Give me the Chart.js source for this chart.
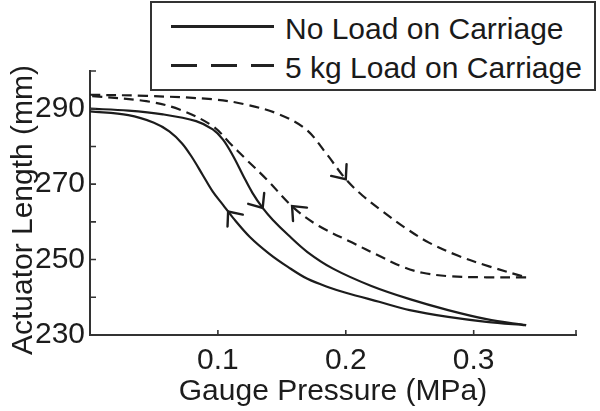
<!DOCTYPE html>
<html>
<head>
<meta charset="utf-8">
<script src="https://cdn.jsdelivr.net/npm/chart.js@4.4.1/dist/chart.umd.min.js"></script>
<style>
  html, body { margin: 0; padding: 0; background: #fff; }
  #wrap { position: relative; width: 600px; height: 411px; font-family: "Liberation Sans", Arial, sans-serif; color: #1a1a1a; }
  #legend { position: absolute; left: 150px; top: 1px; width: 446px; height: 90px; border: 2px solid #333; box-sizing: border-box; background: #fff; }
  .sample { position: absolute; left: 171px; width: 103px; height: 3px; }
  .solid { background: #222; }
  .dashed { background: repeating-linear-gradient(to right, #222 0 26px, transparent 26px 40px); }
  .label { position: absolute; left: 285px; font-size: 30px; line-height: 30px; white-space: nowrap; }
</style>
</head>
<body>
<div id="wrap">
  <canvas id="chart" width="600" height="411"></canvas>
  <div id="legend"></div>
</div>
<script>
// x = gauge pressure (MPa), y = actuator length (mm)
// each branch is listed in the order it is travelled
const seriesNames = ["No Load on Carriage", "5 kg Load on Carriage"];

const noLoadUpX = [0, 0.03, 0.057, 0.083, 0.096, 0.104, 0.112, 0.12, 0.127, 0.135, 0.143, 0.155, 0.17, 0.19, 0.22, 0.25, 0.28, 0.31, 0.341];
const noLoadUpY = [290, 289.5, 288.5, 286.7, 284.5, 281.8, 277.4, 272.1, 267.7, 263.7, 260.5, 256.5, 252, 247.6, 243, 239.5, 236.6, 234.2, 232.6];

const noLoadDownX = [0.341, 0.31, 0.28, 0.25, 0.226, 0.2, 0.187, 0.17, 0.155, 0.14, 0.125, 0.112, 0.104, 0.096, 0.088, 0.08, 0.072, 0.062, 0.05, 0.03, 0];
const noLoadDownY = [232.6, 233.5, 234.8, 236.6, 238.8, 241.2, 242.6, 244.9, 248, 251.6, 256, 261, 264.5, 268, 272.5, 277, 280.8, 284, 286.3, 288.3, 289.3];

const loadUpX = [0, 0.044, 0.096, 0.122, 0.148, 0.169, 0.185, 0.2, 0.213, 0.228, 0.247, 0.265, 0.288, 0.312, 0.341];
const loadUpY = [293.7, 293.4, 292.5, 291.1, 288.5, 284.5, 278, 271.3, 267, 263, 258.3, 254.5, 251, 248.2, 245.3];

const loadDownX = [0.341, 0.31, 0.28, 0.26, 0.245, 0.226, 0.205, 0.179, 0.16, 0.138, 0.122, 0.109, 0.096, 0.07, 0.044, 0];
const loadDownY = [245.3, 245.3, 245.6, 246.5, 248, 251, 254.5, 258.9, 263.5, 271.3, 276.6, 281, 285.4, 289.8, 292, 293.4];

// direction arrows: which dataset, and at which pressure
const arrowSeries = [0, 1, 2, 3];
const arrowAtX = [0.135, 0.108, 0.2, 0.158];

const xTickLabels = [0.1, 0.2, 0.3];
const yTickLabels = [230, 250, 270, 290];
const yTitle = "Actuator Length (mm)";

const ink = "#1c1c1c";
const font = "'Liberation Sans', Arial, sans-serif";

function toPoints(xs, ys) {
  return xs.map((x, i) => ({ x: x, y: ys[i] }));
}

function branch(xs, ys, dashed) {
  return {
    data: toPoints(xs, ys),
    borderColor: ink,
    borderWidth: 2.2,
    borderDash: dashed ? [10, 6] : [],
    pointRadius: 0,
    tension: 0.35,
    fill: false,
  };
}

// arrowheads drawn on top of the curves
const arrowPlugin = {
  id: "arrows",
  afterDatasetsDraw(chart) {
    const ctx = chart.ctx;
    const sx = chart.scales.x, sy = chart.scales.y;
    ctx.save();
    ctx.strokeStyle = ink;
    ctx.lineWidth = 2.4;
    ctx.setLineDash([]);
    ctx.lineCap = "round";
    arrowSeries.forEach((di, k) => {
      const pts = chart.data.datasets[di].data;
      const ax = arrowAtX[k];
      for (let i = 0; i < pts.length - 1; i++) {
        const a = pts[i], b = pts[i + 1];
        if ((a.x - ax) * (b.x - ax) > 0 || a.x === b.x) continue;
        const t = (ax - a.x) / (b.x - a.x);
        const px = sx.getPixelForValue(ax);
        const py = sy.getPixelForValue(a.y + t * (b.y - a.y));
        const ang = Math.atan2(sy.getPixelForValue(b.y) - sy.getPixelForValue(a.y),
                               sx.getPixelForValue(b.x) - sx.getPixelForValue(a.x));
        const len = 15, spread = 0.7;
        ctx.beginPath();
        ctx.moveTo(px - len * Math.cos(ang - spread), py - len * Math.sin(ang - spread));
        ctx.lineTo(px, py);
        ctx.lineTo(px - len * Math.cos(ang + spread), py - len * Math.sin(ang + spread));
        ctx.stroke();
        break;
      }
    });
    ctx.restore();
  }
};

// tick marks pointing into the plot, plus the y title (longer than the axis)
const inwardTicks = {
  id: "inwardTicks",
  afterDraw(chart) {
    const { ctx, chartArea, scales } = chart;
    ctx.save();
    ctx.strokeStyle = "#333";
    ctx.lineWidth = 1.6;
    ctx.beginPath();
    scales.x.ticks.forEach(t => {
      const p = scales.x.getPixelForValue(t.value);
      ctx.moveTo(p, chartArea.bottom);
      ctx.lineTo(p, chartArea.bottom - 5);
    });
    scales.y.ticks.forEach(t => {
      const p = scales.y.getPixelForValue(t.value);
      ctx.moveTo(chartArea.left, p);
      ctx.lineTo(chartArea.left + 6, p);
    });
    ctx.stroke();

    ctx.translate(32, (chartArea.top + chartArea.bottom) / 2 + 7);
    ctx.rotate(-Math.PI / 2);
    ctx.fillStyle = ink;
    ctx.font = "30px " + font;
    ctx.textAlign = "center";
    ctx.textBaseline = "alphabetic";
    ctx.fillText(yTitle, 0, 0);
    ctx.restore();
  }
};

function isLabelled(v, list) {
  return list.some(l => Math.abs(l - v) < 1e-9);
}

new Chart(document.getElementById("chart"), {
  type: "line",
  data: {
    datasets: [
      branch(noLoadUpX, noLoadUpY, false),
      branch(noLoadDownX, noLoadDownY, false),
      branch(loadUpX, loadUpY, true),
      branch(loadDownX, loadDownY, true),
    ],
  },
  options: {
    responsive: false,
    animation: false,
    layout: { padding: { left: 4, top: 71, right: 24, bottom: 0 } },
    plugins: { legend: { display: false }, tooltip: { enabled: false } },
    scales: {
      x: {
        type: "linear",
        min: 0,
        max: 0.38,
        afterFit(s) { s.height = 76; },
        grid: { display: false, drawTicks: false, tickLength: 0 },
        border: { display: true, color: "#333", width: 2 },
        ticks: {
          stepSize: 0.1,
          autoSkip: false,
          maxRotation: 0,
          padding: 8,
          color: ink,
          font: { family: font, size: 30 },
          callback: v => isLabelled(v, xTickLabels) ? v.toFixed(1) : "",
        },
        title: {
          display: true,
          text: "Gauge Pressure (MPa)",
          color: ink,
          font: { family: font, size: 30, lineHeight: 1 },
          padding: { top: 0, bottom: 4 },
        },
      },
      y: {
        min: 230,
        max: 300,
        afterFit(s) { s.width = 86; },
        grid: { display: false, drawTicks: false, tickLength: 0 },
        border: { display: true, color: "#333", width: 2 },
        ticks: {
          stepSize: 10,
          autoSkip: false,
          padding: 5,
          color: ink,
          font: { family: font, size: 30 },
          callback: v => isLabelled(v, yTickLabels) ? String(v) : "",
        },
        title: { display: false },
      },
    },
  },
  plugins: [arrowPlugin, inwardTicks],
});

// legend box built from the series names
const wrap = document.getElementById("wrap");
seriesNames.forEach((name, i) => {
  const s = document.createElement("div");
  s.className = "sample " + (i === 0 ? "solid" : "dashed");
  s.style.top = (i === 0 ? 25 : 64) + "px";
  wrap.appendChild(s);
  const l = document.createElement("div");
  l.className = "label";
  l.style.top = (i === 0 ? 14 : 53) + "px";
  l.textContent = name;
  wrap.appendChild(l);
});
</script>
</body>
</html>
